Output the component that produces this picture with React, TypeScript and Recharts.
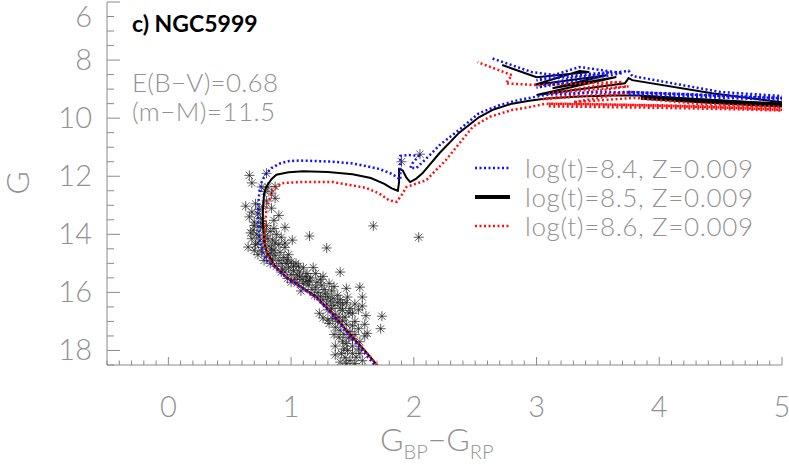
import { ScatterChart, Scatter, XAxis, YAxis } from 'recharts';

const AXIS = '#8a8a8a';
const LABEL = '#929292';
const FONT = 'Lato, "DejaVu Sans", sans-serif';

// tick labels
const xLabels = [0, 1, 2, 3, 4, 5];
const yLabels = [6, 8, 10, 12, 14, 16, 18];

// minor ticks every 0.1 in colour, every 0.5 in G
const xTicks: number[] = [];
for (let i = -5; i <= 50; i++) xTicks.push(i / 10);
const yTicks: number[] = [];
for (let i = 12; i <= 37; i++) yTicks.push(i / 2);

// cluster members [BP-RP, G]
const stars = [
  [0.66, 11.97], [0.68, 12.23], [0.80, 11.90], [0.76, 12.37], [0.81, 12.37], [0.87, 12.35], [0.79, 12.52], [0.84, 12.58],
  [0.87, 12.76], [0.84, 13.10], [0.63, 13.03], [0.68, 13.23], [0.66, 13.40], [0.73, 13.30], [0.77, 13.05], [0.80, 12.85],
  [0.86, 13.52], [0.90, 13.35], [0.71, 12.95], [0.75, 13.45],
  [0.70, 13.58], [0.95, 13.76], [0.69, 13.86], [0.72, 14.00], [0.75, 13.75], [0.80, 13.70], [0.83, 13.90], [0.88, 14.00],
  [0.92, 14.10], [0.78, 14.25], [0.73, 14.30], [0.65, 14.44], [0.82, 14.40], [0.90, 14.35], [0.76, 13.62], [0.86, 13.80],
  [0.68, 14.15], [0.79, 14.05], [0.85, 14.20], [0.95, 14.30], [1.01, 14.20], [1.15, 14.06], [1.29, 14.47], [1.67, 13.71],
  [2.04, 14.10],
  [0.70, 14.55], [0.76, 14.60], [0.86, 14.55], [0.95, 14.45], [0.98, 14.70], [0.80, 14.75], [0.85, 14.85], [0.90, 14.90],
  [0.94, 14.80], [1.00, 14.95], [1.04, 15.00], [0.88, 15.10], [0.93, 15.20], [0.98, 15.15], [1.02, 15.25], [1.07, 15.30],
  [1.10, 15.15], [1.18, 15.14], [1.40, 15.30], [0.83, 14.65], [0.91, 14.62], [0.96, 15.00], [1.06, 15.10], [1.13, 15.35],
  [1.00, 15.38], [0.92, 15.30],
  [1.07, 15.47], [1.12, 15.45], [0.97, 15.52], [1.03, 15.55], [1.15, 15.60], [1.20, 15.82], [1.10, 15.70], [1.17, 15.90],
  [1.25, 15.75], [1.31, 15.69], [1.45, 15.86], [1.56, 15.82], [1.22, 16.00], [1.28, 16.05], [1.33, 15.95], [1.38, 16.10],
  [1.26, 16.25], [1.32, 16.30], [1.40, 16.25], [1.46, 16.16], [1.58, 16.16], [1.35, 16.45], [1.42, 16.40], [1.58, 16.47],
  [1.13, 15.62], [1.05, 15.68], [1.19, 16.10], [1.30, 16.15], [1.24, 15.55],
  [1.50, 16.72], [1.61, 16.80], [1.74, 16.82], [1.23, 16.72], [1.30, 16.60], [1.36, 16.75], [1.44, 16.85], [1.31, 17.07],
  [1.38, 17.00], [1.45, 17.10], [1.52, 17.00], [1.40, 17.30], [1.48, 17.35], [1.55, 17.25], [1.73, 17.25], [1.62, 17.41],
  [1.42, 16.62], [1.48, 16.55], [1.34, 16.90], [1.26, 16.88], [1.60, 17.10], [1.35, 17.45],
  [1.39, 17.54], [1.45, 17.76], [1.50, 17.60], [1.56, 17.70], [1.41, 18.10], [1.53, 18.23], [1.46, 18.00], [1.40, 18.40],
  [1.48, 18.35], [1.55, 17.95], [1.60, 17.50], [1.36, 17.85], [1.52, 18.45], [1.44, 18.25], [1.58, 18.35],
  [1.90, 11.50], [2.05, 11.24],
  [0.74, 13.15], [0.70, 13.70], [0.78, 13.85], [0.74, 14.10], [0.81, 14.15], [0.87, 14.30], [0.77, 14.45], [0.84, 14.50],
  [0.73, 14.70], [0.78, 14.90], [0.83, 15.00], [0.87, 14.72], [0.92, 15.00], [0.97, 14.88], [1.02, 15.10], [0.95, 15.30],
  [1.05, 15.40], [1.09, 15.55], [1.00, 15.65], [1.14, 15.75], [1.08, 15.95], [1.16, 15.50], [1.21, 15.65], [1.27, 15.90],
  [1.35, 15.80], [1.24, 16.15], [1.34, 16.20], [1.29, 16.40], [1.38, 16.35], [1.45, 16.35], [1.52, 16.40], [1.40, 16.55],
  [1.33, 16.55], [1.47, 16.70], [1.55, 16.60], [1.39, 16.85], [1.30, 16.95], [1.42, 16.98], [1.50, 17.15], [1.36, 17.20],
  [1.43, 17.45], [1.52, 17.45], [1.47, 17.55], [1.42, 17.70], [1.50, 17.85], [1.43, 17.95], [1.50, 18.10], [1.36, 18.15],
  [1.45, 18.45], [1.56, 18.10], [0.71, 14.35], [0.67, 13.95], [1.20, 15.35], [1.26, 15.45],
];

// log(t)=8.4 isochrone
const iso84Main = [
  [1.70, 18.6], [1.58, 18.0], [1.44, 17.3], [1.32, 16.7], [1.20, 16.17], [1.07, 15.8], [0.95, 15.45], [0.86, 15.1],
  [0.80, 14.9], [0.76, 14.5], [0.74, 14.1], [0.73, 13.5], [0.73, 13.06], [0.74, 12.6], [0.76, 12.2], [0.79, 11.95],
  [0.84, 11.72], [0.91, 11.56], [0.98, 11.48], [1.07, 11.46], [1.23, 11.48], [1.34, 11.5], [1.50, 11.56], [1.61, 11.65],
  [1.72, 11.75], [1.81, 11.9], [1.86, 12.02], [1.89, 12.12], [1.89, 11.8], [1.89, 11.3], [1.96, 11.27], [2.04, 11.3],
  [1.99, 11.55], [1.97, 11.72], [2.02, 11.72], [2.10, 11.4], [2.21, 10.93], [2.37, 10.4], [2.53, 9.83], [2.7, 9.55],
  [2.85, 9.38], [3.07, 9.2], [3.4, 9.12], [3.75, 9.1], [4.2, 9.18], [4.6, 9.25], [5.05, 9.32],
];
const iso84Upper = [
  [5.05, 9.25], [4.5, 9.1], [3.78, 8.55], [3.75, 8.37], [3.3, 8.6], [3.0, 8.95], [3.7, 8.45], [3.35, 8.24],
  [3.0, 8.7], [3.6, 8.42], [3.2, 8.55], [2.96, 8.41], [2.63, 7.93],
];
const iso84Band = [[3.75, 9.14], [4.2, 9.21], [4.6, 9.27], [5.05, 9.34]];

// log(t)=8.5 isochrone
const iso85Main = [
  [1.72, 18.6], [1.60, 18.0], [1.45, 17.3], [1.33, 16.7], [1.21, 16.17], [1.08, 15.8], [0.96, 15.48], [0.87, 15.1],
  [0.80, 14.6], [0.78, 14.2], [0.77, 13.6], [0.77, 13.17], [0.78, 12.6], [0.80, 12.35], [0.84, 12.1], [0.88, 11.95],
  [0.98, 11.86], [1.10, 11.83], [1.30, 11.85], [1.50, 11.93], [1.65, 12.06], [1.76, 12.26], [1.82, 12.42], [1.87, 12.5],
  [1.88, 12.2], [1.88, 11.75], [1.91, 11.8], [1.94, 12.05], [1.97, 12.2], [2.02, 12.08], [2.07, 11.9], [2.21, 11.2],
  [2.37, 10.5], [2.53, 9.97], [2.65, 9.7], [2.8, 9.5], [2.94, 9.4], [3.08, 9.32], [3.35, 9.25], [3.61, 9.22],
  [3.83, 9.22], [4.2, 9.32], [4.6, 9.42], [5.05, 9.52],
];
const iso85Upper = [
  [5.05, 9.48], [4.43, 9.14], [3.78, 8.69], [3.75, 8.62], [3.72, 8.8], [3.0, 9.2], [3.65, 8.58], [3.13, 8.97],
  [3.57, 8.52], [2.98, 8.86], [3.35, 8.38], [3.43, 8.41], [3.0, 8.59], [2.72, 8.17],
];
const iso85Band = [[3.85, 9.28], [4.4, 9.42], [5.05, 9.56]];

// log(t)=8.6 isochrone
const iso86Main = [
  [1.72, 18.6], [1.60, 18.0], [1.45, 17.3], [1.33, 16.7], [1.21, 16.2], [1.09, 15.85], [0.97, 15.5], [0.88, 15.15],
  [0.83, 14.9], [0.79, 14.5], [0.78, 14.1], [0.79, 13.6], [0.80, 13.06], [0.83, 12.75], [0.85, 12.5], [0.92, 12.24],
  [1.07, 12.2], [1.34, 12.2], [1.61, 12.4], [1.72, 12.6], [1.80, 12.83], [1.86, 12.88], [1.90, 12.65], [1.94, 12.37],
  [2.10, 12.14], [2.26, 11.45], [2.48, 10.3], [2.62, 9.95], [2.8, 9.72], [2.94, 9.62], [3.08, 9.5], [3.5, 9.52],
  [4.0, 9.57], [4.5, 9.63], [5.05, 9.72],
];
const iso86Upper = [
  [5.05, 9.62], [4.3, 9.5], [3.8, 9.3], [3.3, 9.45], [3.78, 9.1], [3.05, 9.35], [3.75, 8.9], [3.1, 9.15],
  [3.7, 8.75], [3.0, 8.86], [2.75, 8.8], [2.80, 8.52], [2.52, 8.07],
];
const iso86Band = [[3.1, 9.55], [4.0, 9.6], [4.6, 9.65], [5.05, 9.7]];

const toPts = (a: number[][]) => a.map(([x, y]) => ({ x, y }));

const BLUE = { stroke: '#1010ff', strokeWidth: 2.5, strokeDasharray: '2 2.5' };
const BLACK = { stroke: '#000', strokeWidth: 2 };
const RED = { stroke: '#ff1010', strokeWidth: 2.5, strokeDasharray: '2 2.5' };
const BLUE_BAND = { ...BLUE, strokeWidth: 5 };
const BLACK_BAND = { ...BLACK, strokeWidth: 5 };
const RED_BAND = { ...RED, strokeWidth: 5 };

const NoShape = () => <g />;

function Asterisk(props: any) {
  const { cx, cy } = props;
  const r = 5;
  const d = 3.6;
  return (
    <g stroke="#1a1a1a" strokeWidth={1} strokeOpacity={0.7}>
      <line x1={cx - r} y1={cy} x2={cx + r} y2={cy} />
      <line x1={cx} y1={cy - r} x2={cx} y2={cy + r} />
      <line x1={cx - d} y1={cy - d} x2={cx + d} y2={cy + d} />
      <line x1={cx - d} y1={cy + d} x2={cx + d} y2={cy - d} />
    </g>
  );
}

const isInt = (v: number) => Math.abs(v - Math.round(v)) < 1e-6;
const isEven = (v: number) => isInt(v) && Math.round(v) % 2 === 0;

function BottomTick({ x, y, payload }: any) {
  const v = payload.value;
  const major = isInt(v);
  return (
    <g>
      <line x1={x} x2={x} y1={y} y2={y - (major ? 8 : 4.5)} stroke={AXIS} />
      {major && xLabels.includes(Math.round(v)) && (
        <text x={x} y={y + 52} textAnchor="middle" fill={LABEL} fontSize={29} fontFamily={FONT} fontWeight={300}>
          {Math.round(v)}
        </text>
      )}
    </g>
  );
}

function TopTick({ x, y, payload }: any) {
  const major = isInt(payload.value);
  return <line x1={x} x2={x} y1={y} y2={y + (major ? 8 : 4.5)} stroke={AXIS} />;
}

function LeftTick({ x, y, payload }: any) {
  const v = payload.value;
  const major = isEven(v);
  return (
    <g>
      <line x1={x} x2={x + (major ? 13 : 7)} y1={y} y2={y} stroke={AXIS} />
      {major && yLabels.includes(Math.round(v)) && (
        <text x={x - 15} y={Math.max(y, 17) + 10} textAnchor="end" fill={LABEL} fontSize={29} fontFamily={FONT} fontWeight={300}>
          {Math.round(v)}
        </text>
      )}
    </g>
  );
}

function RightTick({ x, y, payload }: any) {
  const major = isEven(payload.value);
  return <line x1={x} x2={x - (major ? 13 : 7)} y1={y} y2={y} stroke={AXIS} />;
}

const legendRows = [
  { label: 'log(t)=8.4, Z=0.009', line: BLUE, y: 168 },
  { label: 'log(t)=8.5, Z=0.009', line: { stroke: '#000', strokeWidth: 4 }, y: 197 },
  { label: 'log(t)=8.6, Z=0.009', line: RED, y: 226 },
];

export default function App() {
  return (
    <div style={{ position: 'absolute', left: 0, top: 0, width: 789, height: 465, background: '#fff' }}>
      <ScatterChart width={789} height={465} margin={{ top: 2, right: 7, bottom: 0, left: 0 }}>
        <XAxis
          type="number" dataKey="x" domain={[-0.5, 5]} allowDataOverflow ticks={xTicks} interval={0}
          height={100} stroke={AXIS} tickLine={false} tickSize={0} tickMargin={0} tick={<BottomTick />}
        />
        <XAxis
          xAxisId="top" orientation="top" type="number" dataKey="x" domain={[-0.5, 5]} allowDataOverflow
          ticks={xTicks} interval={0} height={0} stroke={AXIS} tickLine={false} tickSize={0} tickMargin={0} tick={<TopTick />}
        />
        <YAxis
          type="number" dataKey="y" domain={[6, 18.5]} reversed allowDataOverflow ticks={yTicks} interval={0}
          width={107} stroke={AXIS} tickLine={false} tickSize={0} tickMargin={0} tick={<LeftTick />}
        />
        <YAxis
          yAxisId="right" orientation="right" type="number" dataKey="y" domain={[6, 18.5]} reversed allowDataOverflow
          ticks={yTicks} interval={0} width={0} stroke={AXIS} tickLine={false} tickSize={0} tickMargin={0} tick={<RightTick />}
        />
        <Scatter data={toPts(stars)} shape={<Asterisk />} isAnimationActive={false} />
        <Scatter data={toPts(iso85Main)} line={BLACK} shape={NoShape} isAnimationActive={false} />
        <Scatter data={toPts(iso85Upper)} line={BLACK} shape={NoShape} isAnimationActive={false} />
        <Scatter data={toPts(iso85Band)} line={BLACK_BAND} shape={NoShape} isAnimationActive={false} />
        <Scatter data={toPts(iso86Main)} line={RED} shape={NoShape} isAnimationActive={false} />
        <Scatter data={toPts(iso86Upper)} line={RED} shape={NoShape} isAnimationActive={false} />
        <Scatter data={toPts(iso86Band)} line={RED_BAND} shape={NoShape} isAnimationActive={false} />
        <Scatter data={toPts(iso84Main)} line={BLUE} shape={NoShape} isAnimationActive={false} />
        <Scatter data={toPts(iso84Upper)} line={BLUE} shape={NoShape} isAnimationActive={false} />
        <Scatter data={toPts(iso84Band)} line={BLUE_BAND} shape={NoShape} isAnimationActive={false} />
      </ScatterChart>

      <svg width={789} height={465} style={{ position: 'absolute', left: 0, top: 0, pointerEvents: 'none' }}>
        <text x={132} y={32} fontSize={23} fontWeight={700} fontFamily={FONT} fill="#000">c) NGC5999</text>
        <text x={132} y={92} fontSize={26} fontWeight={300} fontFamily={FONT} fill={LABEL} textLength={146}>E(B−V)=0.68</text>
        <text x={132} y={121} fontSize={26} fontWeight={300} fontFamily={FONT} fill={LABEL} textLength={143}>(m−M)=11.5</text>
        {legendRows.map(r => (
          <g key={r.label}>
            <line x1={475} x2={510} y1={r.y} y2={r.y} {...r.line} />
            <text x={525} y={r.y + 10} fontSize={26} fontWeight={300} fontFamily={FONT} fill={LABEL} textLength={228}>{r.label}</text>
          </g>
        ))}
        <text transform="translate(29,183) rotate(-90)" textAnchor="middle" fontSize={32} fontWeight={300} fontFamily={FONT} fill={LABEL}>G</text>
        <text x={380} y={451} fontSize={32} fontWeight={300} fontFamily={FONT} fill={LABEL}>
          G<tspan fontSize={20} dy={8}>BP</tspan><tspan dy={-8}>−G</tspan><tspan fontSize={20} dy={8}>RP</tspan>
        </text>
      </svg>
    </div>
  );
}
